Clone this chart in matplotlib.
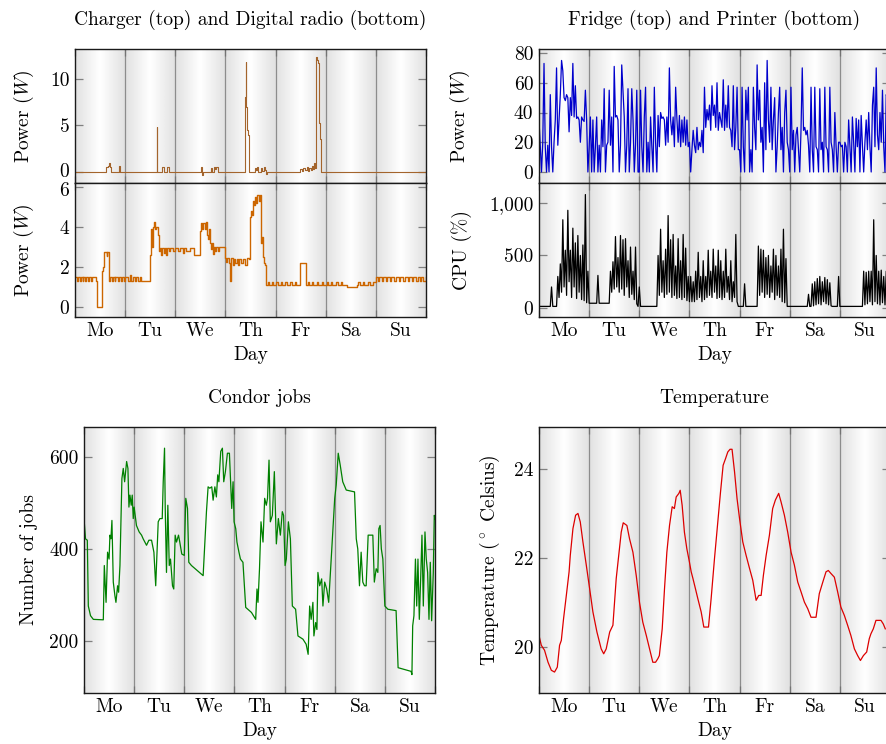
import numpy as np
import matplotlib
matplotlib.use("Agg")
import matplotlib.pyplot as plt
import matplotlib.transforms as mtransforms
from matplotlib.ticker import FixedLocator, FixedFormatter, NullFormatter

plt.rcParams['font.family'] = 'serif'
plt.rcParams['font.serif'] = ['cmr10']
plt.rcParams['mathtext.fontset'] = 'cm'
plt.rcParams['axes.formatter.use_mathtext'] = True
plt.rcParams['font.size'] = 14
plt.rcParams['axes.titlesize'] = 14

# ==========================================
# DATA
# ==========================================
days = ['Mo', 'Tu', 'We', 'Th', 'Fr', 'Sa', 'Su']

# charger power, step changes (day, W)
charger_t = [0.00, 0.61, 0.66, 0.68, 0.69, 0.71, 0.87, 0.89, 1.63, 1.64, 1.73, 1.78, 1.83, 1.88,
             2.52, 2.535, 2.55, 2.72, 2.74, 2.77, 2.79, 2.82, 2.85, 3.40, 3.41, 3.42, 3.43, 3.44,
             3.46, 3.48, 3.59, 3.61, 3.63, 3.65, 3.70, 3.72, 3.76, 3.79, 3.81, 3.82, 4.49, 4.52,
             4.55, 4.58, 4.62, 4.64, 4.67, 4.70, 4.72, 4.74, 4.76, 4.78, 4.80, 4.81, 4.83, 4.85,
             4.87, 4.88, 4.89, 4.90, 7.00]
charger_w = [0, 0.5, 0.6, 1.0, 0.5, 0, 0.6, 0, 4.8, 0, 0.5, 0, 0.5, 0,
             0.5, -0.3, 0, 0.4, 0, 0.5, 0.3, 0.5, 0, 8.0, 11.8, 7.0, 6.2, 4.5,
             4.0, 0, 0.4, 0.2, 0.5, 0, 0.4, 0.1, 0.5, 0.2, -0.2, 0, 0.3, 0.1,
             0.4, 0.2, 0.5, 0.1, 0.4, 0.2, 0.6, 0.3, 1.0, 0.4, 1.0, 12.3, 12.0, 11.7,
             5.3, 4.0, 3.5, 0, 0]

# digital radio power, step changes (day, W)
radio_t = [0.00, 0.03, 0.05, 0.09, 0.11, 0.15, 0.16, 0.20, 0.22, 0.26, 0.28, 0.32, 0.34, 0.38,
           0.41, 0.43, 0.53, 0.56, 0.58, 0.63, 0.64, 0.67, 0.69, 0.73, 0.75, 0.79, 0.80, 0.85,
           0.87, 0.92, 0.94, 0.98, 1.00, 1.06, 1.10, 1.12, 1.16, 1.19, 1.22, 1.25, 1.30, 1.32,
           1.50, 1.52, 1.54, 1.55, 1.57, 1.60, 1.62, 1.66, 1.68, 1.70, 1.72, 1.74, 1.78, 1.80,
           1.82, 1.84, 1.88, 1.90, 1.95, 2.00, 2.05, 2.10, 2.15, 2.17, 2.22, 2.25, 2.30, 2.37,
           2.49, 2.51, 2.54, 2.56, 2.59, 2.61, 2.63, 2.66, 2.68, 2.70, 2.72, 2.74, 2.76, 2.77,
           2.80, 2.82, 2.86, 2.88, 2.93, 2.99, 3.02, 3.04, 3.08, 3.10, 3.11, 3.15, 3.17, 3.20,
           3.23, 3.26, 3.28, 3.32, 3.35, 3.40, 3.43, 3.47, 3.49, 3.51, 3.53, 3.54, 3.56, 3.58,
           3.60, 3.62, 3.67, 3.68, 3.70, 3.71, 3.72, 3.74, 3.76, 3.78, 3.80, 3.84, 3.87, 3.92,
           3.95, 4.00, 4.04, 4.10, 4.12, 4.18, 4.22, 4.28, 4.32, 4.38, 4.40, 4.49, 4.60, 4.64,
           4.66, 4.72, 4.75, 4.82, 4.85, 4.92, 4.95, 5.02, 5.05, 5.10, 5.13, 5.20, 5.24, 5.30,
           5.33, 5.42, 5.62, 5.65, 5.68, 5.74, 5.77, 5.85, 5.88, 5.95, 6.00, 6.04, 6.07, 6.12,
           6.15, 6.20, 6.23, 6.28, 6.30, 6.36, 6.40, 6.46, 6.48, 6.55, 6.58, 6.64, 6.67, 6.72,
           6.75, 6.80, 6.84, 6.88, 6.91, 6.95, 7.00]
radio_w = [1.5, 1.3, 1.5, 1.3, 1.5, 1.3, 1.5, 1.3, 1.5, 1.3, 1.5, 1.3, 1.5, 1.5,
           1.3, 0.0, 1.8, 2.0, 2.75, 2.55, 2.75, 1.3, 1.5, 1.3, 1.5, 1.3, 1.5, 1.3,
           1.5, 1.3, 1.5, 1.3, 1.5, 1.3, 1.6, 1.3, 1.5, 1.3, 1.5, 1.3, 1.5, 1.3,
           2.6, 3.9, 3.0, 4.0, 4.25, 3.9, 4.0, 3.6, 2.8, 2.95, 2.6, 2.95, 2.7, 2.95,
           2.6, 2.95, 2.8, 2.95, 2.8, 2.95, 2.8, 2.95, 2.7, 2.95, 2.8, 2.8, 2.95, 2.6,
           3.8, 4.2, 3.9, 4.2, 3.9, 4.25, 3.6, 3.4, 3.9, 3.2, 2.9, 3.2, 2.65, 3.0,
           2.8, 3.0, 2.8, 3.0, 3.0, 2.45, 2.25, 2.45, 2.2, 1.3, 2.45, 2.1, 2.4, 2.2,
           2.4, 2.1, 2.4, 2.2, 2.4, 2.1, 2.45, 2.4, 4.5, 4.8, 4.6, 5.3, 5.1, 5.5,
           5.2, 5.6, 5.3, 5.6, 3.5, 3.2, 3.5, 2.5, 2.2, 2.1, 1.1, 1.25, 1.1, 1.25,
           1.1, 1.25, 1.1, 1.25, 1.1, 1.25, 1.1, 1.25, 1.1, 1.25, 1.1, 2.2, 1.1, 1.25,
           1.1, 1.25, 1.1, 1.25, 1.1, 1.25, 1.1, 1.25, 1.1, 1.25, 1.1, 1.25, 1.1, 1.25,
           1.1, 1.0, 1.1, 1.25, 1.1, 1.25, 1.1, 1.25, 1.1, 1.25, 1.5, 1.3, 1.5, 1.3,
           1.5, 1.3, 1.5, 1.3, 1.5, 1.3, 1.5, 1.3, 1.5, 1.3, 1.5, 1.3, 1.5, 1.3,
           1.5, 1.3, 1.5, 1.3, 1.5, 1.3, 1.5]

# fridge power, 40 samples per day (W)
fridge_mo = [35, 17, 0, 20, 73, 17, 0, 18, 0, 52, 17, 0, 20, 35, 70, 18, 35, 52, 75, 68,
             50, 48, 52, 50, 27, 50, 38, 73, 37, 58, 36, 37, 35, 20, 37, 35, 34, 55, 35, 0]
fridge_tu = [17, 37, 0, 35, 0, 17, 37, 0, 18, 0, 35, 17, 56, 0, 18, 20, 55, 18, 37, 0,
             71, 37, 38, 35, 0, 18, 72, 55, 37, 0, 18, 56, 0, 20, 56, 35, 0, 18, 55, 0]
fridge_we = [0, 55, 17, 0, 37, 57, 0, 20, 0, 37, 17, 0, 57, 20, 0, 38, 17, 40, 36, 37,
             35, 18, 37, 20, 70, 35, 25, 37, 17, 57, 36, 20, 38, 17, 35, 20, 37, 18, 35, 17]
fridge_th = [20, 0, 15, 28, 18, 13, 30, 15, 20, 17, 28, 13, 57, 30, 42, 35, 45, 28, 58, 38,
             45, 30, 60, 28, 40, 35, 30, 62, 28, 45, 30, 58, 30, 28, 17, 58, 15, 30, 57, 15]
fridge_fr = [15, 0, 57, 17, 0, 55, 35, 57, 0, 15, 0, 57, 30, 15, 72, 35, 55, 20, 30, 0,
             60, 15, 75, 35, 20, 57, 15, 35, 50, 0, 17, 40, 57, 15, 30, 0, 40, 55, 20, 15]
fridge_sa = [0, 57, 15, 28, 0, 25, 30, 15, 0, 28, 70, 28, 30, 25, 28, 18, 0, 57, 15, 0,
             57, 17, 15, 0, 56, 15, 20, 0, 57, 17, 15, 0, 57, 20, 15, 0, 40, 17, 0, 20]
fridge_su = [20, 17, 18, 0, 20, 17, 0, 35, 18, 0, 37, 20, 0, 36, 17, 35, 0, 38, 18, 0,
             20, 35, 15, 40, 17, 0, 45, 57, 17, 70, 25, 15, 40, 20, 55, 17, 0, 52, 50, 20]

# printer CPU, 40 samples per day (%)
cpu_mo = [15, 15, 15, 15, 15, 15, 15, 15, 15, 15, 200, 15, 15, 15, 15, 300, 100, 420, 150, 840,
          200, 550, 120, 930, 250, 550, 100, 760, 200, 620, 90, 690, 150, 500, 80, 600, 70, 1080, 50, 350]
cpu_tu = [45, 45, 45, 45, 45, 45, 45, 310, 45, 45, 45, 45, 45, 45, 45, 45, 45, 350, 150, 440,
          180, 680, 200, 480, 150, 690, 180, 650, 120, 660, 200, 450, 100, 580, 130, 350, 80, 580, 40, 15]
cpu_we = [200, 15, 15, 15, 15, 15, 15, 15, 15, 15, 15, 15, 15, 15, 15, 500, 120, 750, 150, 450,
          100, 560, 130, 880, 150, 650, 100, 700, 120, 400, 90, 660, 100, 450, 80, 700, 100, 570, 70, 300]
cpu_th = [60, 300, 60, 250, 60, 350, 80, 530, 100, 300, 60, 450, 80, 300, 100, 550, 120, 350, 100, 560,
          150, 400, 90, 550, 100, 450, 80, 350, 100, 560, 150, 300, 80, 450, 60, 250, 100, 700, 60, 15]
cpu_fr = [15, 15, 15, 15, 230, 15, 15, 15, 15, 15, 15, 15, 15, 15, 15, 590, 120, 560, 150, 550,
          100, 480, 130, 500, 100, 400, 150, 560, 80, 500, 120, 400, 100, 560, 60, 750, 50, 470, 15, 15]
cpu_sa = [15, 15, 15, 15, 15, 15, 15, 15, 15, 15, 15, 15, 15, 15, 15, 130, 15, 15, 230, 20,
          250, 30, 280, 40, 300, 30, 250, 60, 290, 40, 270, 30, 240, 20, 15, 15, 15, 15, 15, 300]
cpu_su = [15, 15, 15, 15, 15, 15, 15, 15, 15, 15, 15, 15, 15, 15, 15, 15, 15, 15, 15, 350,
          30, 340, 40, 350, 60, 350, 30, 840, 60, 500, 40, 350, 30, 360, 50, 300, 30, 350, 40, 200]

# condor jobs (day, number of jobs)
condor_t = [0.0, 0.03, 0.066, 0.086, 0.13, 0.186, 0.385, 0.405, 0.44, 0.47, 0.50, 0.517, 0.537,
            0.557, 0.584, 0.617, 0.637, 0.67, 0.69, 0.717, 0.756, 0.783, 0.81, 0.85, 0.876, 0.896,
            0.916, 0.942, 0.962, 0.982, 1.0, 1.046, 1.10, 1.148, 1.18, 1.247, 1.294, 1.347, 1.394,
            1.43, 1.48, 1.513, 1.56, 1.58, 1.606, 1.62, 1.645, 1.672, 1.70, 1.725, 1.765, 1.79,
            1.818, 1.845, 1.885, 1.91, 1.95, 2.0, 2.03, 2.064, 2.09, 2.143, 2.376, 2.442, 2.475,
            2.508, 2.548, 2.575, 2.61, 2.64, 2.667, 2.69, 2.727, 2.76, 2.787, 2.82, 2.86, 2.9,
            2.946, 2.973, 2.993, 3.026, 3.05, 3.09, 3.12, 3.17, 3.225, 3.34, 3.424, 3.45, 3.47,
            3.50, 3.53, 3.57, 3.603, 3.636, 3.66, 3.69, 3.716, 3.756, 3.796, 3.836, 3.876, 3.916,
            3.955, 3.98, 4.01, 4.035, 4.076, 4.116, 4.155, 4.22, 4.267, 4.366, 4.43, 4.47, 4.5,
            4.53, 4.565, 4.585, 4.62, 4.645, 4.665, 4.70, 4.74, 4.765, 4.80, 4.84, 4.88, 4.93,
            4.963, 5.0, 5.03, 5.07, 5.11, 5.16, 5.23, 5.395, 5.43, 5.46, 5.494, 5.527, 5.56,
            5.594, 5.627, 5.667, 5.76, 5.79, 5.827, 5.86, 5.88, 5.905, 5.93, 5.96, 6.0, 6.06,
            6.224, 6.264, 6.523, 6.54, 6.555, 6.58, 6.61, 6.635, 6.66, 6.687, 6.714, 6.74, 6.767,
            6.80, 6.826, 6.853, 6.88, 6.906, 6.933, 6.966, 6.986, 7.0]
condor_jobs = [466, 422, 419, 276, 255, 247, 246, 364, 284, 393, 378, 430, 422,
               462, 328, 298, 284, 320, 306, 364, 553, 575, 546, 590, 575, 491,
               517, 495, 517, 466, 491, 451, 437, 430, 422, 408, 419, 419, 393,
               320, 459, 466, 466, 546, 619, 488, 349, 495, 364, 378, 320, 313,
               430, 415, 430, 415, 389, 386, 510, 488, 371, 364, 342, 481, 535,
               532, 535, 506, 535, 513, 561, 546, 612, 619, 546, 568, 608, 608,
               488, 546, 459, 444, 415, 393, 378, 371, 273, 262, 247, 313, 284,
               357, 459, 415, 510, 495, 510, 593, 459, 473, 568, 411, 466, 430,
               481, 473, 364, 378, 459, 422, 276, 269, 211, 204, 193, 171, 276,
               247, 284, 211, 240, 225, 349, 320, 335, 276, 328, 313, 284, 378,
               437, 510, 539, 608, 582, 546, 528, 524, 422, 400, 320, 393, 328,
               320, 320, 430, 430, 328, 357, 349, 444, 451, 400, 378, 276, 269,
               266, 142, 134, 127, 233, 255, 378, 276, 378, 247, 335, 430, 276,
               437, 378, 349, 247, 371, 244, 349, 473, 466]

# room temperature (day, deg C)
temp_t = [0.0, 0.046, 0.11, 0.18, 0.246, 0.31, 0.365, 0.41, 0.445, 0.49, 0.545, 0.6, 0.624,
          0.677, 0.73, 0.777, 0.823, 0.876, 0.943, 1.01, 1.075, 1.155, 1.24, 1.29, 1.34, 1.41,
          1.474, 1.54, 1.594, 1.64, 1.68, 1.753, 1.806, 1.873, 1.94, 2.005, 2.07, 2.14, 2.205,
          2.27, 2.324, 2.37, 2.40, 2.457, 2.503, 2.55, 2.603, 2.656, 2.70, 2.736, 2.79, 2.816,
          2.855, 2.9, 2.948, 3.0, 3.035, 3.07, 3.12, 3.167, 3.234, 3.287, 3.33, 3.38, 3.433,
          3.5, 3.566, 3.62, 3.672, 3.72, 3.765, 3.81, 3.85, 3.9, 3.95, 4.0, 4.064, 4.13, 4.2,
          4.263, 4.33, 4.383, 4.43, 4.475, 4.53, 4.595, 4.66, 4.714, 4.78, 4.827, 4.894, 4.96,
          5.027, 5.093, 5.16, 5.226, 5.293, 5.36, 5.425, 5.525, 5.59, 5.66, 5.724, 5.77, 5.824,
          5.89, 5.956, 6.02, 6.09, 6.155, 6.22, 6.29, 6.355, 6.41, 6.47, 6.535, 6.587, 6.62,
          6.667, 6.72, 6.82, 6.866, 6.906]
temp_c = [20.26, 20.04, 19.93, 19.66, 19.48, 19.44, 19.55, 20.04, 20.15, 20.64, 21.16, 21.69, 22.06,
          22.66, 22.96, 23.0, 22.81, 22.36, 21.84, 21.31, 20.79, 20.34, 19.96, 19.85, 19.96, 20.34,
          20.49, 21.54, 22.1, 22.58, 22.79, 22.73, 22.43, 22.13, 21.6, 21.0, 20.56, 20.26, 19.96,
          19.66, 19.66, 19.74, 19.81, 20.41, 21.31, 22.13, 22.73, 23.15, 23.11, 23.37, 23.45, 23.52,
          23.18, 22.58, 22.21, 21.91, 21.69, 21.54, 21.31, 21.09, 20.79, 20.45, 20.45, 20.45, 21.09,
          21.99, 22.81, 23.48, 24.08, 24.23, 24.38, 24.44, 24.44, 23.93, 23.33, 22.88, 22.36, 22.06, 21.76,
          21.5, 21.05, 21.16, 21.16, 21.61, 22.06, 22.51, 23.11, 23.3, 23.45, 23.26, 22.96, 22.58,
          22.13, 21.84, 21.46, 21.24, 21.01, 20.86, 20.67, 20.67, 21.2, 21.46, 21.69, 21.72, 21.65,
          21.57, 21.24, 20.9, 20.71, 20.49, 20.26, 19.96, 19.81, 19.7, 19.81, 19.89, 20.19, 20.3,
          20.41, 20.6, 20.6, 20.52, 20.41]

fridge_w = fridge_mo + fridge_tu + fridge_we + fridge_th + fridge_fr + fridge_sa + fridge_su
cpu_pct = cpu_mo + cpu_tu + cpu_we + cpu_th + cpu_fr + cpu_sa + cpu_su
sample_t = np.arange(len(fridge_w)) / 40.0


# ==========================================
# STYLE HELPERS
# ==========================================
def shade_days(ax, ylo, yhi):
    x = np.linspace(0, 7, 1400, endpoint=False) + 0.0025
    u = x % 1.0
    g = 1.0 - 0.12 * np.abs(2 * u - 1)
    ax.imshow(g[np.newaxis, :], extent=(0, 7, ylo, yhi), aspect='auto', cmap='gray',
              vmin=0, vmax=1, interpolation='bilinear', zorder=0)
    for d in range(1, 7):
        ax.axvline(d, color='0.55', lw=0.9, zorder=1)
    ax.set_xlim(0, 7)
    ax.set_ylim(ylo, yhi)


def style_axes(ax, yticks, ylabels, show_days):
    ax.yaxis.set_major_locator(FixedLocator(yticks))
    ax.yaxis.set_major_formatter(FixedFormatter(ylabels))
    ax.tick_params(axis='y', direction='in', length=6, width=0.9, color='0.5',
                   left=True, right=True, pad=4)
    ax.xaxis.set_major_locator(FixedLocator(range(8)))
    ax.xaxis.set_major_formatter(NullFormatter())
    ax.tick_params(axis='x', which='major', direction='in', length=5, width=0.9,
                   color='0.45', top=True, bottom=True)
    if show_days:
        ax.xaxis.set_minor_locator(FixedLocator(np.arange(7) + 0.5))
        ax.xaxis.set_minor_formatter(FixedFormatter(days))
        ax.tick_params(axis='x', which='minor', length=0, pad=4)
        ax.set_xlabel('Day', labelpad=4)
    else:
        ax.xaxis.set_minor_formatter(NullFormatter())
    for s in ax.spines.values():
        s.set_linewidth(1.0)
        s.set_color('0.1')
        s.set_zorder(5)


def nudge_label(fig, ax, idx, dy_px):
    # small vertical shift of one y tick label (keeps stacked panels' labels apart)
    lab = ax.get_yticklabels()[idx]
    off = mtransforms.ScaledTranslation(0, dy_px / fig.dpi, fig.dpi_scale_trans)
    lab.set_transform(lab.get_transform() + off)


# ==========================================
# FIGURE
# ==========================================
fig = plt.figure(figsize=(8.86, 7.44), dpi=100)
W, H = 886.0, 744.0


def add_ax(x0, y0, x1, y1):
    return fig.add_axes([x0 / W, 1 - y1 / H, (x1 - x0) / W, (y1 - y0) / H])


ax_ch = add_ax(75, 49, 426, 183)
ax_ra = add_ax(75, 183, 426, 317)
ax_fr = add_ax(539, 49, 890, 183)
ax_cp = add_ax(539, 183, 890, 317)
ax_co = add_ax(84, 427, 435, 693)
ax_te = add_ax(539, 427, 890, 693)

# charger / radio
shade_days(ax_ch, -1.2, 13.2)
ax_ch.plot(charger_t, charger_w, drawstyle='steps-post', color='#a3642c', lw=0.8, zorder=3)
style_axes(ax_ch, [0, 5, 10], ['0', '5', '10'], False)
ax_ch.set_title('Charger (top) and Digital radio (bottom)', pad=17)
ax_ch.set_ylabel('Power ($W$)')

shade_days(ax_ra, -0.5, 6.2)
ax_ra.plot(radio_t, radio_w, drawstyle='steps-post', color='#cc6600', lw=1.0, zorder=3)
style_axes(ax_ra, [0, 2, 4, 6], ['0', '2', '4', '6'], True)
ax_ra.set_ylabel('Power ($W$)')

# fridge / printer
shade_days(ax_fr, -7.4, 82.7)
ax_fr.plot(sample_t, fridge_w, color='#0000cc', lw=0.9, zorder=3)
style_axes(ax_fr, [0, 20, 40, 60, 80], ['0', '20', '40', '60', '80'], False)
ax_fr.set_title('Fridge (top) and Printer (bottom)', pad=17)
ax_fr.set_ylabel('Power ($W$)')

shade_days(ax_cp, -86, 1190)
ax_cp.plot(sample_t, cpu_pct, color='black', lw=0.9, zorder=3)
style_axes(ax_cp, [0, 500, 1000], ['0', '500', '1,000'], True)
ax_cp.set_ylabel('CPU (%)')

# condor
shade_days(ax_co, 87, 665)
ax_co.plot(condor_t, condor_jobs, color='#008000', lw=0.9, zorder=3)
style_axes(ax_co, [200, 400, 600], ['200', '400', '600'], True)
ax_co.set_title('Condor jobs', pad=17)
ax_co.set_ylabel('Number of jobs')

# temperature
shade_days(ax_te, 18.97, 24.94)
ax_te.plot(temp_t, temp_c, color='#dd0000', lw=0.9, zorder=3)
style_axes(ax_te, [20, 22, 24], ['20', '22', '24'], True)
ax_te.set_title('Temperature', pad=17)
ax_te.set_ylabel(r'Temperature ($^\circ$ Celsius)')

# label positions (axes fraction)
for ax in (ax_ch, ax_ra):
    ax.yaxis.set_label_coords(-0.112, 0.5)
for ax in (ax_fr, ax_cp):
    ax.yaxis.set_label_coords(-0.19, 0.5)
ax_co.yaxis.set_label_coords(-0.13, 0.5)
ax_te.yaxis.set_label_coords(-0.105, 0.5)

nudge_label(fig, ax_ch, 0, 2)
nudge_label(fig, ax_ra, 3, -2)

fig.savefig('out.png', dpi=100)
